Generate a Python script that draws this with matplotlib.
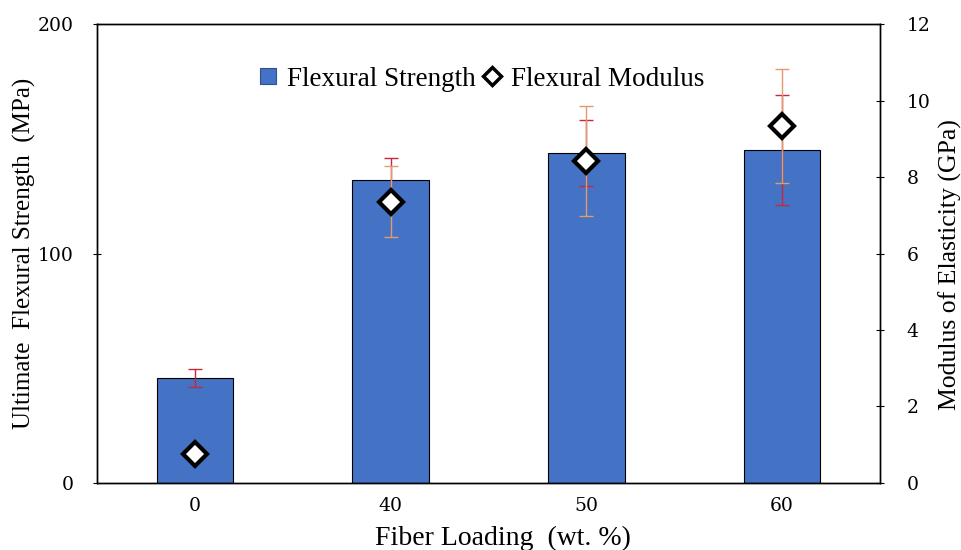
import matplotlib
matplotlib.use("Agg")
import matplotlib.pyplot as plt
from matplotlib.lines import Line2D
import numpy as np

categories = ["0", "40", "50", "60"]
strength = [45.8, 132.2, 143.8, 145.0]
strength_err = [3.8, 9.6, 14.3, 24.0]
modulus = [0.75, 7.36, 8.42, 9.33]
modulus_err = [0.05, 0.92, 1.44, 1.49]

plt.rcParams['font.family'] = ['Liberation Serif', 'DejaVu Serif']

fig = plt.figure(figsize=(9.62, 5.5), dpi=100)
ax = fig.add_axes([0.1008, 0.122, 0.8140, 0.834])
ax2 = ax.twinx()

x = np.arange(len(categories))
ax.bar(x, strength, width=0.39, color='#4472C4', edgecolor='black', linewidth=0.8, zorder=1)
ax.errorbar(x, strength, yerr=strength_err, fmt='none', ecolor='#C8283C',
            elinewidth=1.0, capsize=5, capthick=1.0, zorder=2)

ax2.errorbar(x, modulus, yerr=modulus_err, fmt='none', ecolor='#E39A6E',
             elinewidth=1.0, capsize=5, capthick=1.0, zorder=2)
ax2.plot(x, modulus, linestyle='none', marker='D', markersize=12.5,
         markerfacecolor='white', markeredgecolor='black', markeredgewidth=3, zorder=3)

ax.set_xlim(-0.5, 3.5)
ax.set_ylim(0, 200)
ax2.set_ylim(0, 12)
ax.set_xticks(x)
ax.set_xticklabels(categories)
ax.set_yticks([0, 100, 200])
ax2.set_yticks([0, 2, 4, 6, 8, 10, 12])

ax.tick_params(axis='x', length=0, pad=10)
ax.tick_params(axis='y', direction='inout', length=6, pad=14)
ax2.tick_params(axis='y', direction='inout', length=6, pad=16)
for lab in ax.get_xticklabels() + ax.get_yticklabels() + ax2.get_yticklabels():
    lab.set_fontfamily('DejaVu Serif')
    lab.set_fontsize(13.5)

for a in (ax, ax2):
    for s in a.spines.values():
        s.set_linewidth(1.0)
        s.set_color('black')

ax.set_xlabel("Fiber Loading  (wt. %)", fontsize=20, labelpad=8, x=0.518)
ax.set_ylabel("Ultimate  Flexural Strength  (MPa)", fontsize=18, labelpad=1)
ax2.set_ylabel("Modulus of Elasticity (GPa)", fontsize=18.5, labelpad=6, y=0.475)

handles = [
    Line2D([], [], linestyle='none', marker='s', markersize=12,
           markerfacecolor='#4472C4', markeredgecolor='#2F4F8F', markeredgewidth=0.8),
    Line2D([], [], linestyle='none', marker='D', markersize=9,
           markerfacecolor='white', markeredgecolor='black', markeredgewidth=2.5),
]
ax2.legend(handles, ["Flexural Strength", "Flexural Modulus"], ncol=2, frameon=False,
           loc='center', bbox_to_anchor=(0.487, 0.88), fontsize=19.5,
           handletextpad=0.1, columnspacing=0.0, handlelength=1.2)

fig.savefig("out.png", dpi=100)
